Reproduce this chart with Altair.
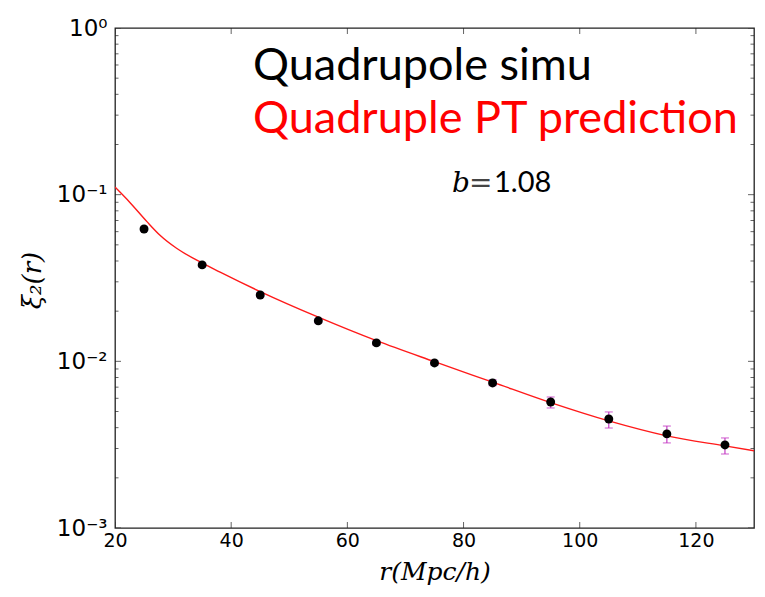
import altair as alt
import pandas as pd

# ---- data ----
r_pts = [25, 35, 45, 55, 65, 75, 85, 95, 105, 115, 125]
xi_pts = [0.0622, 0.0379, 0.0250, 0.0175, 0.0129, 0.00978, 0.00742,
          0.00570, 0.00451, 0.00367, 0.00315]
xi_lo = [0.0605, 0.0369, 0.0243, 0.0170, 0.01250, 0.00945, 0.00715,
         0.00525, 0.00398, 0.00324, 0.00278]
xi_hi = [0.0640, 0.0390, 0.0258, 0.0180, 0.01330, 0.01010, 0.00775,
         0.00611, 0.00497, 0.00409, 0.00347]

r_line = [20, 22.6, 25.5, 27.7, 30.6, 34, 38.1, 45, 55, 65, 75, 85,
          95, 105, 115, 125, 130]
xi_line = [0.111, 0.0895, 0.0689, 0.0573, 0.0477, 0.0406, 0.0343, 0.0262,
           0.0184, 0.0133, 0.00995, 0.0075, 0.00565, 0.00439,
           0.00357, 0.00311, 0.00291]

x_major = [20, 40, 60, 80, 100, 120]
y_major = [0.001, 0.01, 0.1, 1]
y_minor = [0.002, 0.003, 0.004, 0.005, 0.006, 0.007, 0.008, 0.009,
           0.02, 0.03, 0.04, 0.05, 0.06, 0.07, 0.08, 0.09,
           0.2, 0.3, 0.4, 0.5, 0.6, 0.7, 0.8, 0.9]
x_domain = [20, 130]
y_domain = [0.001, 1]

# zero-width non-joiner keeps Lato from forming the "ti" ligature
annot_lines = ["Quadrupole simu", "Quadruple PT predic\u200ction"]
b_parts = ["b", "=", "1.08"]
x_title = "r(Mpc/h)"
y_title = "ξ₂(r)"

# ---- tables ----
pts = pd.DataFrame({"r": r_pts, "xi": xi_pts, "lo": xi_lo, "hi": xi_hi})
line_df = pd.DataFrame({"r": r_line, "xi": xi_line})

xs = alt.Scale(domain=x_domain, nice=False, zero=False)
ys = alt.Scale(type="log", domain=y_domain, nice=False)

x_axis = alt.Axis(values=x_major, ticks=False, domain=False, grid=False,
                  labelFont="DejaVu Sans", labelFontSize=19, labelColor="black",
                  labelPadding=3, labelFlush=False,
                  title=x_title, titleFont="DejaVu Serif", titleFontStyle="italic",
                  titleFontWeight="normal", titleFontSize=25, titleColor="black",
                  titleY=51, titleBaseline="alphabetic")
y_axis = alt.Axis(values=y_major, ticks=False, domain=False, grid=False,
                  labelFont="DejaVu Sans", labelFontSize=23, labelColor="black",
                  labelPadding=8, labelFlush=False,
                  labelExpr="'10' + (round(log(datum.value)/LN10) == 0 ? '⁰' : round(log(datum.value)/LN10) == -1 ? '⁻¹' : round(log(datum.value)/LN10) == -2 ? '⁻²' : '⁻³')",
                  title=y_title, titleFont="DejaVu Serif", titleFontStyle="italic",
                  titleFontWeight="normal", titleFontSize=26, titleColor="black",
                  titleAngle=-90, titleX=-70, titleY=252, titleBaseline="bottom")


def X(field="r"):
    return alt.X(f"{field}:Q", scale=xs, axis=x_axis)


def Y(field="xi"):
    return alt.Y(f"{field}:Q", scale=ys, axis=y_axis)


line = alt.Chart(line_df).mark_line(color="#ff1a1a", strokeWidth=1.4,
                                    interpolate="monotone", clip=True).encode(x=X(), y=Y())

err = alt.Chart(pts).mark_rule(color="#c43bc4", strokeWidth=1.2).encode(
    x=X(), y=Y("lo"), y2="hi:Q")
cap_lo = alt.Chart(pts).mark_tick(color="#c43bc4", orient="horizontal", size=8,
                                  thickness=1.2).encode(x=X(), y=Y("lo"))
cap_hi = alt.Chart(pts).mark_tick(color="#c43bc4", orient="horizontal", size=8,
                                  thickness=1.2).encode(x=X(), y=Y("hi"))
dots = alt.Chart(pts).mark_point(filled=True, color="black", size=80, opacity=1,
                                 shape="circle").encode(x=X(), y=Y())

tick_color = "#222222"
xt_bottom = pd.DataFrame({"r": x_major, "xi": [y_domain[0]] * len(x_major)})
xt_top = pd.DataFrame({"r": x_major, "xi": [y_domain[1]] * len(x_major)})
yt_major = pd.DataFrame({"r": [x_domain[0]] * len(y_major) + [x_domain[1]] * len(y_major),
                         "xi": y_major + y_major})
yt_minor = pd.DataFrame({"r": [x_domain[0]] * len(y_minor) + [x_domain[1]] * len(y_minor),
                         "xi": y_minor + y_minor})

tk_xb = alt.Chart(xt_bottom).mark_tick(orient="vertical", size=12, thickness=1,
                                       color=tick_color, clip=True).encode(x=X(), y=Y())
tk_xt = alt.Chart(xt_top).mark_tick(orient="vertical", size=12, thickness=1,
                                    color=tick_color, clip=True).encode(x=X(), y=Y())
tk_ymaj = alt.Chart(yt_major).mark_tick(orient="horizontal", size=12, thickness=1,
                                        color=tick_color, clip=True).encode(x=X(), y=Y())
tk_ymin = alt.Chart(yt_minor).mark_tick(orient="horizontal", size=7, thickness=1,
                                        color=tick_color, clip=True).encode(x=X(), y=Y())

one = pd.DataFrame({"k": [0]})
txt1 = alt.Chart(one).mark_text(text=annot_lines[0], font="Lato", fontSize=45,
                                color="black", align="left", baseline="alphabetic"
                                ).encode(x=alt.value(138), y=alt.value(52))
txt2 = alt.Chart(one).mark_text(text=annot_lines[1], font="Lato", fontSize=45,
                                color="#ff0000", align="left", baseline="alphabetic"
                                ).encode(x=alt.value(138), y=alt.value(105))
tb = alt.Chart(one).mark_text(text=b_parts[0], font="DejaVu Serif", fontStyle="italic",
                              fontSize=28, color="black", align="left",
                              baseline="alphabetic").encode(x=alt.value(337), y=alt.value(164))
teq = alt.Chart(one).mark_text(text=b_parts[1], font="DejaVu Serif",
                               fontSize=28, color="#444444", align="left",
                               baseline="alphabetic").encode(x=alt.value(354), y=alt.value(164))
tnum = alt.Chart(one).mark_text(text=b_parts[2], font="Lato",
                                fontSize=29, color="black", align="left",
                                baseline="alphabetic").encode(x=alt.value(379), y=alt.value(164))

chart = alt.layer(
    line, err, cap_lo, cap_hi, dots,
    tk_xb, tk_xt, tk_ymaj, tk_ymin,
    txt1, txt2, tb, teq, tnum,
).properties(
    width=639, height=500,
    autosize=alt.AutoSizeParams(type="none"),
    padding={"left": 115, "top": 28, "right": 11, "bottom": 69},
    background="white",
).configure_view(stroke="#222222", strokeWidth=1.3)

chart.save("out.html", embed_options={"renderer": "svg", "actions": False})
